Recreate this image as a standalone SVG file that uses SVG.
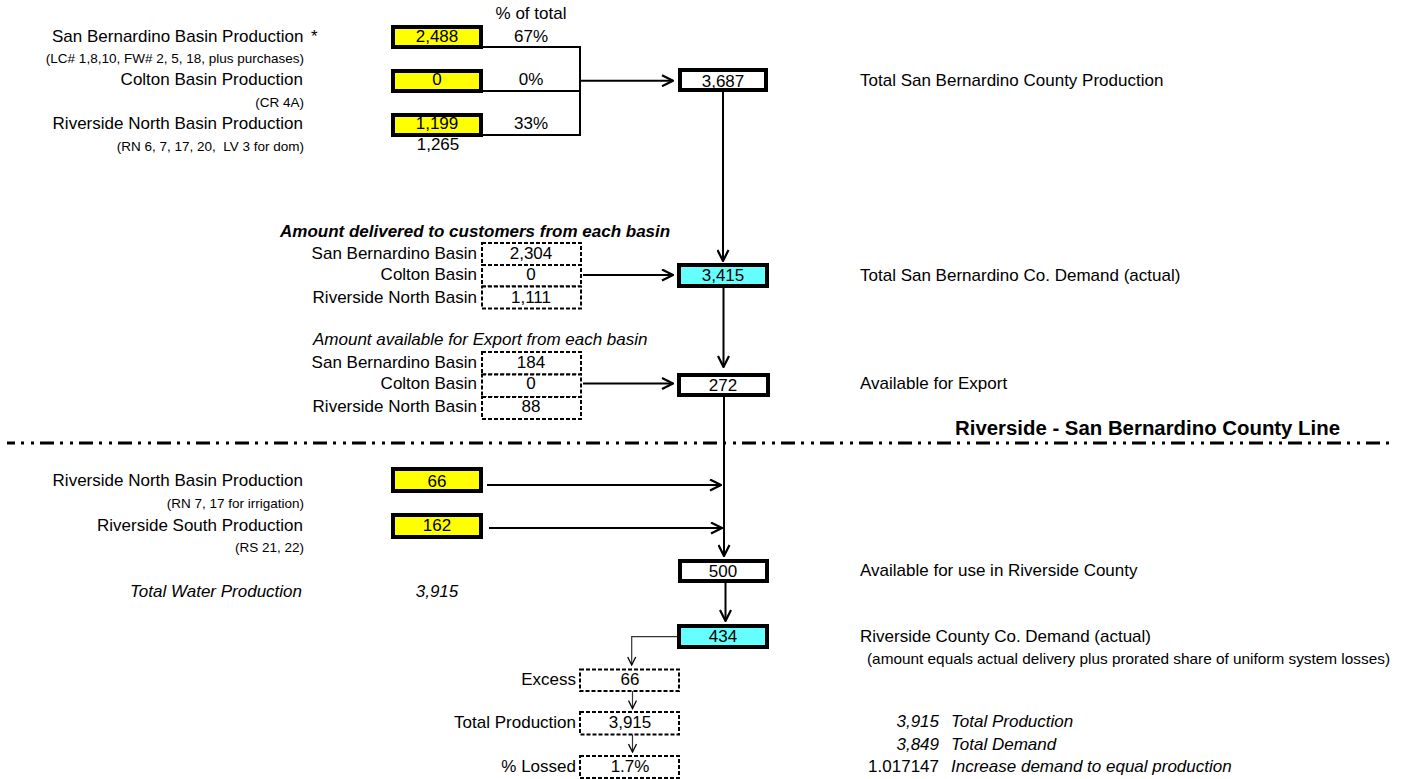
<svg xmlns="http://www.w3.org/2000/svg" width="1408" height="779" viewBox="0 0 1408 779">
<style>
text{font-family:"Liberation Sans",Arial,sans-serif;fill:#000}
.t{font-size:17px}
.s{font-size:13.5px}
.i{font-style:italic}
.b{font-weight:bold}
.e{text-anchor:end}
.m{text-anchor:middle}
.yb{fill:#FFFF00;stroke:#000;stroke-width:4}
.cb{fill:#66FFFF;stroke:#000;stroke-width:4}
.wb{fill:#fff;stroke:#000;stroke-width:4}
.db{fill:#fff;stroke:#000;stroke-width:2;stroke-dasharray:4 2}
.ln{fill:none;stroke:#000;stroke-width:2}
.thin{fill:none;stroke:#333;stroke-width:1.2}
</style>
<defs>
<marker id="ah" markerUnits="userSpaceOnUse" viewBox="0 0 13 13" refX="12" refY="6.5" markerWidth="13" markerHeight="13" orient="auto">
<path d="M1,1 L12,6.5 L1,12" fill="none" stroke="#000" stroke-width="2.2"/>
</marker>
<marker id="ahs" markerUnits="userSpaceOnUse" viewBox="0 0 10 10" refX="9" refY="5" markerWidth="10" markerHeight="10" orient="auto">
<path d="M1,1 L9,5 L1,9" fill="none" stroke="#000" stroke-width="1.3"/>
</marker>
</defs>
<rect width="1408" height="779" fill="#fff"/>

<!-- connectors -->
<g id="connectors">
<path class="ln" d="M483,47 H580 V135 H483 M483,91 H580"/>
<line class="ln" x1="581" y1="80.7" x2="673" y2="80.7" marker-end="url(#ah)"/>
<line class="ln" x1="723" y1="92" x2="723" y2="261" marker-end="url(#ah)"/>
<line class="ln" x1="583" y1="275" x2="673" y2="275" marker-end="url(#ah)"/>
<line class="ln" x1="723.5" y1="288" x2="723.5" y2="367" marker-end="url(#ah)"/>
<line class="ln" x1="583" y1="383.5" x2="673" y2="383.5" marker-end="url(#ah)"/>
<line class="ln" x1="724" y1="397" x2="724" y2="556" marker-end="url(#ah)"/>
<line class="ln" x1="487" y1="485" x2="721" y2="485" marker-end="url(#ah)"/>
<line class="ln" x1="489" y1="528" x2="722" y2="528" marker-end="url(#ah)"/>
<line class="ln" x1="725.5" y1="583" x2="725.5" y2="621" marker-end="url(#ah)"/>
<path class="thin" d="M677,636.7 H631.7 V665" marker-end="url(#ahs)"/>
<line class="thin" x1="632.5" y1="691" x2="632.5" y2="708.5" marker-end="url(#ahs)"/>
<line class="thin" x1="632.5" y1="734.5" x2="632.5" y2="752" marker-end="url(#ahs)"/>
<line x1="7" y1="443" x2="1394" y2="443" stroke="#000" stroke-width="3.2" stroke-dasharray="14 6 3 7 3 6" stroke-dashoffset="6"/>
</g>

<!-- header -->
<text class="t m" x="531" y="19">% of total</text>

<g id="sb-prod">
<text class="t" x="52" y="41.7">San Bernardino Basin Production <tspan x="311">*</tspan></text>
<text class="s e" x="304" y="63">(LC# 1,8,10, FW# 2, 5, 18, plus purchases)</text>
<rect class="yb" x="393" y="27" width="88" height="20"/>
<text class="t m" x="437" y="41.7">2,488</text>
<text class="t m" x="531" y="41.7">67%</text>
</g>
<g id="colton-prod">
<text class="t e" x="303" y="85">Colton Basin Production</text>
<text class="s e" x="304" y="107.3">(CR 4A)</text>
<rect class="yb" x="393" y="71" width="88" height="20"/>
<text class="t m" x="437" y="85">0</text>
<text class="t m" x="531" y="85">0%</text>
</g>
<g id="rn-prod">
<text class="t e" x="303" y="129">Riverside North Basin Production</text>
<text class="s e" x="304" y="151" xml:space="preserve">(RN 6, 7, 17, 20,  LV 3 for dom)</text>
<rect class="yb" x="393" y="115" width="88" height="20"/>
<text class="t m" x="437" y="129">1,199</text>
<text class="t m" x="531" y="129">33%</text>
<text class="t m" x="438" y="150">1,265</text>
</g>

<g id="sb-county-prod">
<rect class="wb" x="680" y="70" width="86" height="20"/>
<text class="t m" x="723" y="86.5">3,687</text>
<text class="t" x="860" y="86">Total San Bernardino County Production</text>
</g>

<g id="delivered">
<text class="t b i" x="280" y="237">Amount delivered to customers from each basin</text>
<rect class="db" x="482" y="243" width="99" height="22"/>
<rect class="db" x="482" y="265" width="99" height="21.5"/>
<rect class="db" x="482" y="286.5" width="99" height="22"/>
<text class="t e" x="477" y="258.8">San Bernardino Basin</text>
<text class="t e" x="477" y="280.4">Colton Basin</text>
<text class="t e" x="477" y="303.4">Riverside North Basin</text>
<text class="t m" x="531" y="258.8">2,304</text>
<text class="t m" x="531" y="280.4">0</text>
<text class="t m" x="531" y="303.4">1,111</text>
</g>

<g id="sb-demand">
<rect class="cb" x="679" y="265" width="88" height="21"/>
<text class="t m" x="723" y="281">3,415</text>
<text class="t" x="860" y="281">Total San Bernardino Co. Demand (actual)</text>
</g>

<g id="export">
<text class="t i" x="313" y="345">Amount available for Export from each basin</text>
<rect class="db" x="482" y="352" width="99" height="22.5"/>
<rect class="db" x="482" y="374.5" width="99" height="22.5"/>
<rect class="db" x="482" y="397" width="99" height="22"/>
<text class="t e" x="477" y="367.8">San Bernardino Basin</text>
<text class="t e" x="477" y="389.4">Colton Basin</text>
<text class="t e" x="477" y="412">Riverside North Basin</text>
<text class="t m" x="531" y="367.8">184</text>
<text class="t m" x="531" y="389.4">0</text>
<text class="t m" x="531" y="412">88</text>
</g>

<g id="avail-export">
<rect class="wb" x="679" y="375" width="89" height="20"/>
<text class="t m" x="723" y="391">272</text>
<text class="t" x="860" y="389">Available for Export</text>
</g>

<text class="b" x="955" y="434.5" style="font-size:20px" textLength="385" lengthAdjust="spacingAndGlyphs">Riverside - San Bernardino County Line</text>

<g id="rn-irr">
<text class="t e" x="303" y="486">Riverside North Basin Production</text>
<text class="s e" x="304" y="508">(RN 7, 17 for irrigation)</text>
<rect class="yb" x="393" y="469" width="88" height="22"/>
<text class="t m" x="437" y="486.5">66</text>
</g>
<g id="rs-prod">
<text class="t e" x="303" y="531">Riverside South Production</text>
<text class="s e" x="304" y="552">(RS 21, 22)</text>
<rect class="yb" x="393" y="515" width="88" height="22"/>
<text class="t m" x="437" y="531">162</text>
</g>

<g id="total-water">
<text class="t i e" x="302" y="596.7">Total Water Production</text>
<text class="t i m" x="437" y="596.7">3,915</text>
</g>

<g id="riv-avail">
<rect class="wb" x="680" y="561" width="87" height="20"/>
<text class="t m" x="723" y="577">500</text>
<text class="t" x="860" y="576">Available for use in Riverside County</text>
</g>

<g id="riv-demand">
<rect class="cb" x="679" y="626" width="88" height="21"/>
<text class="t m" x="723" y="642">434</text>
<text class="t" x="860" y="642">Riverside County Co. Demand (actual)</text>
<text x="867" y="664" style="font-size:15px" textLength="523" lengthAdjust="spacingAndGlyphs">(amount equals actual delivery plus prorated share of uniform system losses)</text>
</g>

<g id="excess">
<text class="t e" x="576" y="685">Excess</text>
<rect class="db" x="580" y="669.5" width="99" height="21.5"/>
<text class="t m" x="630" y="685">66</text>
</g>
<g id="total-prod">
<text class="t e" x="576" y="728.3">Total Production</text>
<rect class="db" x="580" y="712" width="99" height="22.5"/>
<text class="t m" x="630" y="728.3">3,915</text>
</g>
<g id="lossed">
<text class="t e" x="576" y="772.3">% Lossed</text>
<rect class="db" x="580" y="756" width="99" height="22"/>
<text class="t m" x="630" y="772.3">1.7%</text>
</g>

<g id="summary">
<text class="t i e" x="939" y="727.3">3,915</text>
<text class="t i" x="951" y="727.3">Total Production</text>
<text class="t i e" x="939" y="750">3,849</text>
<text class="t i" x="951" y="750">Total Demand</text>
<text class="t e" x="939" y="771.7">1.017147</text>
<text class="t i" x="951" y="771.7">Increase demand to equal production</text>
</g>
</svg>
